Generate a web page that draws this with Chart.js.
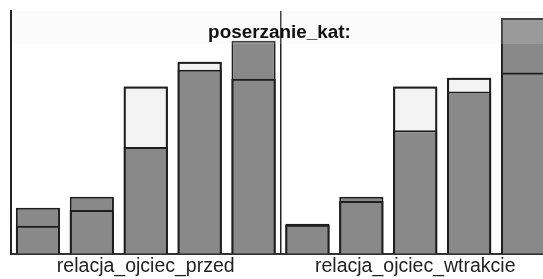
<!DOCTYPE html>
<html>
<head>
<meta charset="utf-8">
<script src="https://cdn.jsdelivr.net/npm/chart.js@4/dist/chart.umd.min.js"></script>
<style>
  html, body { margin: 0; padding: 0; background: #ffffff; overflow: hidden; }
  #wrap { position: relative; width: 556px; height: 279px; }
</style>
</head>
<body>
<div id="wrap"><canvas id="c" width="556" height="279"></canvas></div>
<script>
// Panel (group) names and the chart title
const groups = ['relacja_ojciec_przed', 'relacja_ojciec_wtrakcie'];
const chartTitle = 'poserzanie_kat:';
const levelsPerGroup = 5;

// Values (0..100 scale = full plot height)
const observedPrzed    = [18.9, 23.4, 43.9, 75.8, 87.7];
const expectedPrzed    = [11.5, 18.0, 68.9, 79.1, 72.1];
const observedWtrakcie = [12.3, 23.4, 50.8, 66.8, 97.1];
const expectedWtrakcie = [11.9, 21.7, 68.9, 72.5, 74.6];

const observed = observedPrzed.concat(observedWtrakcie);
const expected = expectedPrzed.concat(expectedWtrakcie);
const labels = observed.map((_, i) => groups[Math.floor(i / levelsPerGroup)] + '_' + (i % levelsPerGroup + 1));

const GRAY = '#898989';
const LIGHT = '#f3f3f3';
const EDGE = '#1e1e1e';

const bandPlugin = {
  id: 'band',
  afterDatasetsDraw(chart) {
    const { ctx, chartArea } = chart;
    ctx.save();
    ctx.fillStyle = 'rgba(232,232,232,0.18)';
    ctx.fillRect(chartArea.left + 1, chartArea.top, chart.width - chartArea.left, 33);
    ctx.fillStyle = '#111';
    ctx.font = 'bold 18.9px "Liberation Sans", Arial, sans-serif';
    ctx.textAlign = 'center';
    ctx.textBaseline = 'alphabetic';
    ctx.fillText(chartTitle, (chartArea.left + chartArea.right) / 2 - 1, chartArea.top + 27);
    ctx.restore();
  }
};

const common = { grouped: false, borderColor: EDGE, borderWidth: 2, barPercentage: 0.82, categoryPercentage: 1 };

new Chart(document.getElementById('c'), {
  type: 'bar',
  data: {
    labels: labels,
    datasets: [
      Object.assign({ label: 'expected-outline', data: expected, backgroundColor: 'rgba(0,0,0,0)', order: 0 }, common),
      Object.assign({ label: 'observed', data: observed, backgroundColor: GRAY, order: 1 }, common),
      Object.assign({ label: 'expected', data: expected, backgroundColor: LIGHT, order: 2 }, common)
    ]
  },
  options: {
    responsive: false,
    devicePixelRatio: 1,
    animation: false,
    layout: { padding: { left: 11, top: 11, right: 6, bottom: 0 } },
    plugins: { legend: { display: false }, tooltip: { enabled: false }, title: { display: false } },
    scales: {
      x: {
        stacked: false,
        grid: {
          display: true,
          offset: true,
          drawTicks: false,
          drawOnChartArea: true,
          color: (ctx) => ctx.index === levelsPerGroup ? '#222' : 'rgba(0,0,0,0)',
          lineWidth: 1.5
        },
        border: { display: true, color: '#333', width: 2 },
        ticks: {
          autoSkip: false,
          maxRotation: 0,
          minRotation: 0,
          padding: 1,
          color: '#222',
          font: { family: '"Liberation Sans", Arial, sans-serif', size: 19.5 },
          callback: (v, i) => (i % levelsPerGroup === 2) ? groups[Math.floor(i / levelsPerGroup)] : ''
        }
      },
      y: {
        min: 0,
        max: 100,
        display: true,
        grid: { display: false, drawTicks: false },
        border: { display: true, color: '#222', width: 2 },
        ticks: { display: false }
      }
    }
  },
  plugins: [bandPlugin]
});
</script>
</body>
</html>
